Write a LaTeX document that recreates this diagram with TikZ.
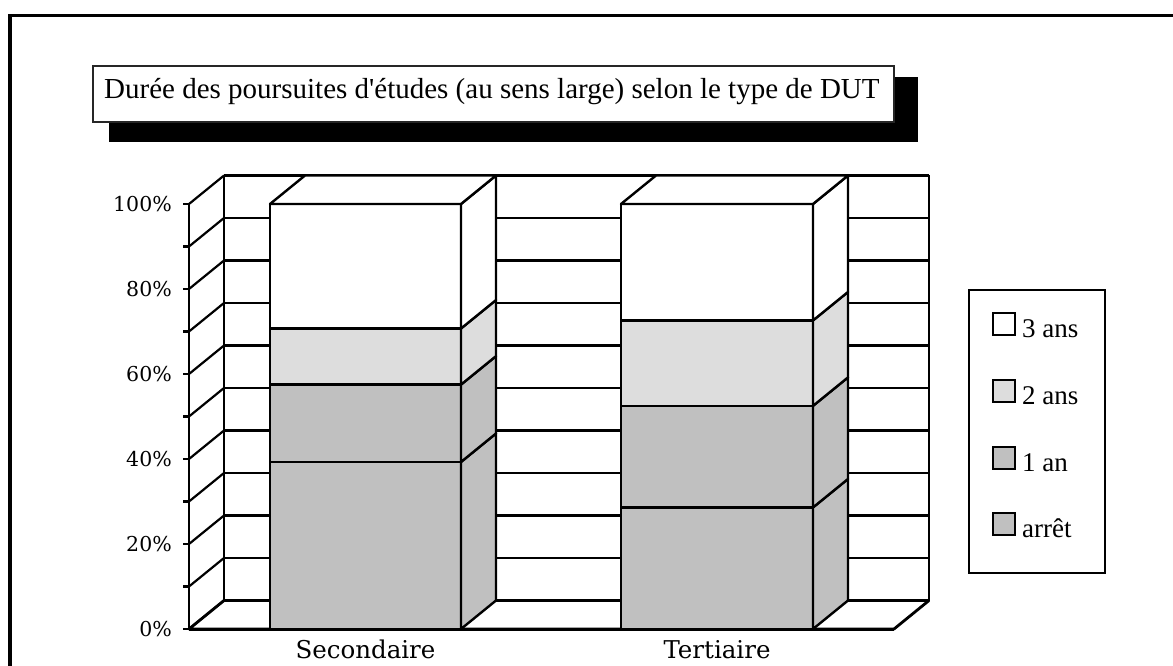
\documentclass[tikz,border=0pt]{standalone}
\usepackage{fontspec}
\setmainfont{Liberation Serif}[Ligatures=TeXOff]
\newfontfamily\axisfont{DejaVu Serif}
\definecolor{barA}{HTML}{C0C0C0}
\definecolor{barB}{HTML}{DDDDDD}
\tikzset{
  gridline/.style={line width=2.2pt},
  barline/.style={line width=2.4pt, line join=round},
  ticklabel/.style={anchor=east, inner sep=0pt, font=\axisfont\fontsize{20.5}{22}\selectfont},
  catlabel/.style={anchor=base, inner sep=0pt, font=\axisfont\fontsize{24.5}{26}\selectfont},
  legtext/.style={anchor=base west, inner sep=0pt, font=\fontsize{27}{29}\selectfont},
  swatch/.style={line width=1.8pt},
}
\newcommand{\drawseg}[5]{%
  \filldraw[fill=#5, barline] (#1,{629-4.25*#3}) rectangle (#2,{629-4.25*#4});
  \filldraw[fill=#5, barline] (#2,{629-4.25*#3}) -- ++(35,-28.5) -- ({#2+35},{600.5-4.25*#4}) -- (#2,{629-4.25*#4}) -- cycle;
}
\newcommand{\drawtop}[2]{%
  \filldraw[fill=white, barline] (#1,204) -- ({#1+35},175.5) -- ({#2+35},175.5) -- (#2,204) -- cycle;
}
\begin{document}
\begin{tikzpicture}[x=1pt,y=-1pt]
\useasboundingbox (0,0) rectangle (1173,666);
\fill[white] (0,0) rectangle (1173,666);
% outer frame
\draw[line width=3.2pt] (10,666) -- (10,15.5) -- (1173,15.5);
% title
\fill[black] (109,77) rectangle (918,142);
\filldraw[fill=white, draw=black!85, line width=1.5pt] (93,66) rectangle (894,122);
\node[anchor=base west, inner sep=0pt, font=\fontsize{29}{31}\selectfont] (title) at (104,98.5) {Durée des poursuites d'études (au sens large) selon le type de DUT};
% back wall
\fill[white] (224,175.5) rectangle (929,600.5);
\foreach \p in {10,20,...,90} {
  \draw[gridline] (224,{600.5-4.25*\p}) -- (929,{600.5-4.25*\p});
}
\draw[line width=2.8pt] (224,175.5) -- (929,175.5);
\draw[line width=3.2pt] (224,600.5) -- (929,600.5);
\draw[gridline] (929,175.5) -- (929,600.5);
\draw[gridline] (224,175.5) -- (224,600.5);
% left wall
\foreach \p in {0,10,...,100} {
  \draw[gridline] (189,{629-4.25*\p}) -- (224,{600.5-4.25*\p});
  \draw[gridline] (183,{629-4.25*\p}) -- (189,{629-4.25*\p});
}
\draw[gridline] (189,204) -- (189,629);
% floor
\draw[line width=2.8pt, line join=round] (224,600.5) -- (189,629) -- (894,629) -- (929,600.5);
% bar 1
\drawseg{270}{461}{0}{39.3}{barA}
\drawseg{270}{461}{39.3}{57.5}{barA}
\drawseg{270}{461}{57.5}{70.7}{barB}
\drawseg{270}{461}{70.7}{100}{white}
\drawtop{270}{461}
% bar 2
\drawseg{621}{813}{0}{28.6}{barA}
\drawseg{621}{813}{28.6}{52.5}{barA}
\drawseg{621}{813}{52.5}{72.6}{barB}
\drawseg{621}{813}{72.6}{100}{white}
\drawtop{621}{813}
\draw[line width=3pt] (189,629) -- (894,629);
% tick labels
\node[ticklabel] (t100) at (172,204) {100\%};
\node[ticklabel] (t80) at (172,289) {80\%};
\node[ticklabel] (t60) at (172,374) {60\%};
\node[ticklabel] (t40) at (172,459) {40\%};
\node[ticklabel] (t20) at (172,544) {20\%};
\node[ticklabel] (t0) at (172,629) {0\%};
% category labels
\node[catlabel] (c1) at (365.5,658.5) {Secondaire};
\node[catlabel] (c2) at (717,658.5) {Tertiaire};
% legend
\filldraw[fill=white, line width=1.8pt] (969,290) rectangle (1105,573);
\filldraw[swatch, fill=white] (993,313) rectangle (1015,335);
\filldraw[swatch, fill=barB] (993,380) rectangle (1015,402);
\filldraw[swatch, fill=barA] (993,447) rectangle (1015,469);
\filldraw[swatch, fill=barA] (993,513) rectangle (1015,535);
\node[legtext] (l3) at (1022,337) {3 ans};
\node[legtext] (l2) at (1022,404) {2 ans};
\node[legtext] (l1) at (1022,471) {1 an};
\node[legtext] (l0) at (1022,537) {arrêt};
\end{tikzpicture}
\end{document}
